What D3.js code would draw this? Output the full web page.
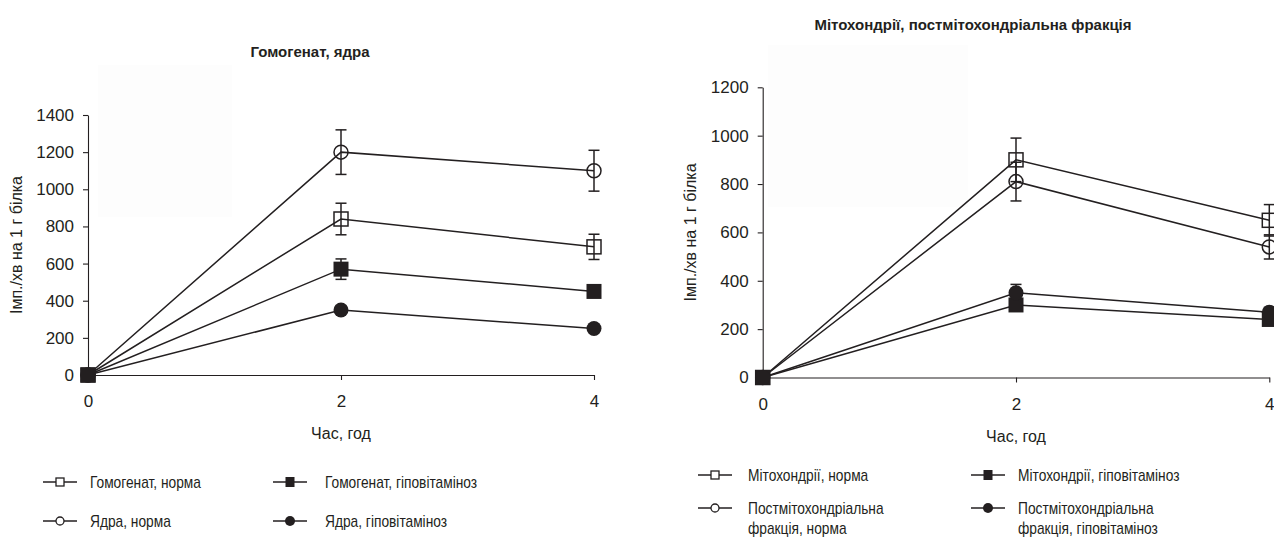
<!DOCTYPE html>
<html><head><meta charset="utf-8">
<script src="https://cdn.jsdelivr.net/npm/d3@7"></script>
<style>body{margin:0;background:#fff}svg{display:block}text{font-family:"Liberation Sans",Arial,sans-serif;fill:#231f20}</style>
</head><body><svg id="c" width="1274" height="545"></svg>
<script>
// ---- data ----
const times = [0, 2, 4];
const xTicks = [0, 2, 4];
const leftTicksY = [0, 200, 400, 600, 800, 1000, 1200, 1400];
const rightTicksY = [0, 200, 400, 600, 800, 1000, 1200];

const homNorm = [0, 840, 690];   const homNormErr = [0, 85, 68];
const homHypo = [0, 570, 450];   const homHypoErr = [0, 55, 20];
const nucNorm = [0, 1200, 1100]; const nucNormErr = [0, 120, 110];
const nucHypo = [0, 350, 250];   const nucHypoErr = [0, 20, 15];

const mitoNorm = [0, 900, 650];  const mitoNormErr = [0, 90, 65];
const mitoHypo = [0, 300, 240];  const mitoHypoErr = [0, 20, 15];
const postNorm = [0, 810, 540];  const postNormErr = [0, 80, 50];
const postHypo = [0, 350, 270];  const postHypoErr = [0, 35, 20];

const leftTitle = "Гомогенат, ядра";
const rightTitle = "Мітохондрії, постмітохондріальна фракція";
const yLabel = "Імп./хв на 1 г білка";
const xLabel = "Час, год";
const leftNames = ["Гомогенат, норма", "Гомогенат, гіповітаміноз", "Ядра, норма", "Ядра, гіповітаміноз"];
const rightNames = [["Мітохондрії, норма"], ["Мітохондрії, гіповітаміноз"],
  ["Постмітохондріальна", "фракція, норма"], ["Постмітохондріальна", "фракція, гіповітаміноз"]];

// ---- drawing ----
const INK = "#231f20";
const svg = d3.select("#c");

function panel(cfg) {
  const g = svg.append("g");
  const x = d3.scaleLinear().domain([0, 4]).range(cfg.xr);
  const y = d3.scaleLinear().domain([0, cfg.ymax]).range(cfg.yr);
  // faint background box
  g.append("rect").attr("x", cfg.box[0]).attr("y", cfg.box[1]).attr("width", cfg.box[2]).attr("height", cfg.box[3]).attr("fill", "#fdfdfd");

  const ya = g.append("g").attr("transform", `translate(${cfg.xr[0]},0)`)
    .call(d3.axisLeft(y).tickValues(cfg.yTicks).tickSize(5).tickSizeOuter(0).tickPadding(9).tickFormat(d3.format("d")));
  const xa = g.append("g").attr("transform", `translate(0,${cfg.yr[0]})`)
    .call(d3.axisBottom(x).tickValues(xTicks).tickSize(5).tickSizeOuter(0).tickPadding(15).tickFormat(d3.format("d")));
  [ya, xa].forEach(a => {
    a.selectAll("path,line").attr("stroke", INK).attr("stroke-width", 1.1);
    a.selectAll("text").attr("font-size", 17).attr("fill", INK).style("font-family", '"Liberation Sans",Arial,sans-serif');
  });

  g.append("text").attr("x", (cfg.xr[0] + cfg.xr[1]) / 2).attr("y", cfg.yr[0] + 64)
    .attr("text-anchor", "middle").attr("font-size", 16).text(xLabel);
  g.append("text").attr("transform", `translate(${cfg.xr[0] - 72},${(cfg.yr[0] + cfg.yr[1]) / 2}) rotate(-90)`)
    .attr("text-anchor", "middle").attr("dy", "0.35em").attr("font-size", 16).text(yLabel);
  g.append("text").attr("x", cfg.titleX).attr("y", cfg.titleY).attr("text-anchor", "middle")
    .attr("font-size", 15).attr("font-weight", "bold").text(cfg.title);

  const line = d3.line().x((d, i) => x(times[i])).y(d => y(d));
  cfg.series.forEach(s => {
    g.append("path").datum(s.v).attr("d", line).attr("fill", "none").attr("stroke", INK).attr("stroke-width", 1.5);
  });
  cfg.series.forEach(s => {
    s.v.forEach((v, i) => {
      const e = s.e[i];
      if (e > 0) {
        const cx = x(times[i]);
        g.append("line").attr("x1", cx).attr("x2", cx).attr("y1", y(v - e)).attr("y2", y(v + e)).attr("stroke", INK).attr("stroke-width", 1.5);
        [v - e, v + e].forEach(w => g.append("line").attr("x1", cx - 5.5).attr("x2", cx + 5.5).attr("y1", y(w)).attr("y2", y(w)).attr("stroke", INK).attr("stroke-width", 1.5));
      }
    });
  });
  cfg.series.forEach(s => {
    s.v.forEach((v, i) => marker(g, s.m, x(times[i]), y(v), 1));
  });
  return g;
}

function marker(g, m, cx, cy, k) {
  if (m === "sqo") g.append("rect").attr("x", cx - 7 * k).attr("y", cy - 7 * k).attr("width", 14 * k).attr("height", 14 * k).attr("fill", "none").attr("stroke", INK).attr("stroke-width", 1.5);
  if (m === "sqf") g.append("rect").attr("x", cx - 7.5 * k).attr("y", cy - 7.5 * k).attr("width", 15 * k).attr("height", 15 * k).attr("fill", INK);
  if (m === "co") g.append("circle").attr("cx", cx).attr("cy", cy).attr("r", 7 * k).attr("fill", "none").attr("stroke", INK).attr("stroke-width", 1.5);
  if (m === "cf") g.append("circle").attr("cx", cx).attr("cy", cy).attr("r", 7.5 * k).attr("fill", INK);
}

panel({
  xr: [88, 594], yr: [375, 115], ymax: 1400, yTicks: leftTicksY, box: [98, 65, 134, 152],
  title: leftTitle, titleX: 310, titleY: 57,
  series: [
    { v: nucNorm, e: nucNormErr, m: "co" },
    { v: homNorm, e: homNormErr, m: "sqo" },
    { v: nucHypo, e: nucHypoErr, m: "cf" },
    { v: homHypo, e: homHypoErr, m: "sqf" }
  ]
});
panel({
  xr: [762.7, 1269.3], yr: [377.5, 87.3], ymax: 1200, yTicks: rightTicksY, box: [768, 45, 200, 162],
  title: rightTitle, titleX: 973, titleY: 30,
  series: [
    { v: mitoNorm, e: mitoNormErr, m: "sqo" },
    { v: postNorm, e: postNormErr, m: "co" },
    { v: mitoHypo, e: mitoHypoErr, m: "sqf" },
    { v: postHypo, e: postHypoErr, m: "cf" }
  ]
});

// ---- legends ----
function legendItem(cx, cy, m, lines, tx, lineGap) {
  const g = svg.append("g");
  g.append("line").attr("x1", cx - 17).attr("x2", cx + 17).attr("y1", cy).attr("y2", cy).attr("stroke", INK).attr("stroke-width", 1.5);
  if (m === "sqo") g.append("rect").attr("x", cx - 4).attr("y", cy - 4).attr("width", 8).attr("height", 8).attr("fill", "#fff").attr("stroke", INK).attr("stroke-width", 1.3);
  if (m === "sqf") g.append("rect").attr("x", cx - 4.5).attr("y", cy - 5).attr("width", 9).attr("height", 10).attr("fill", INK);
  if (m === "co") g.append("circle").attr("cx", cx).attr("cy", cy).attr("r", 4).attr("fill", "#fff").attr("stroke", INK).attr("stroke-width", 1.3);
  if (m === "cf") g.append("circle").attr("cx", cx).attr("cy", cy).attr("r", 5).attr("fill", INK);
  lines.forEach((t, i) => {
    g.append("text").attr("transform", `translate(${tx},${cy + i * lineGap}) scale(0.86,1)`)
      .attr("dy", "0.35em").attr("font-size", 16).text(t);
  });
}
legendItem(60, 482, "sqo", [leftNames[0]], 90, 20);
legendItem(290, 482, "sqf", [leftNames[1]], 325, 20);
legendItem(60, 521, "co", [leftNames[2]], 90, 20);
legendItem(290, 521, "cf", [leftNames[3]], 325, 20);

legendItem(715, 475, "sqo", rightNames[0], 748, 20);
legendItem(988, 475, "sqf", rightNames[1], 1018, 20);
legendItem(715, 508, "co", rightNames[2], 748, 20);
legendItem(988, 508, "cf", rightNames[3], 1018, 20);
</script></body></html>
